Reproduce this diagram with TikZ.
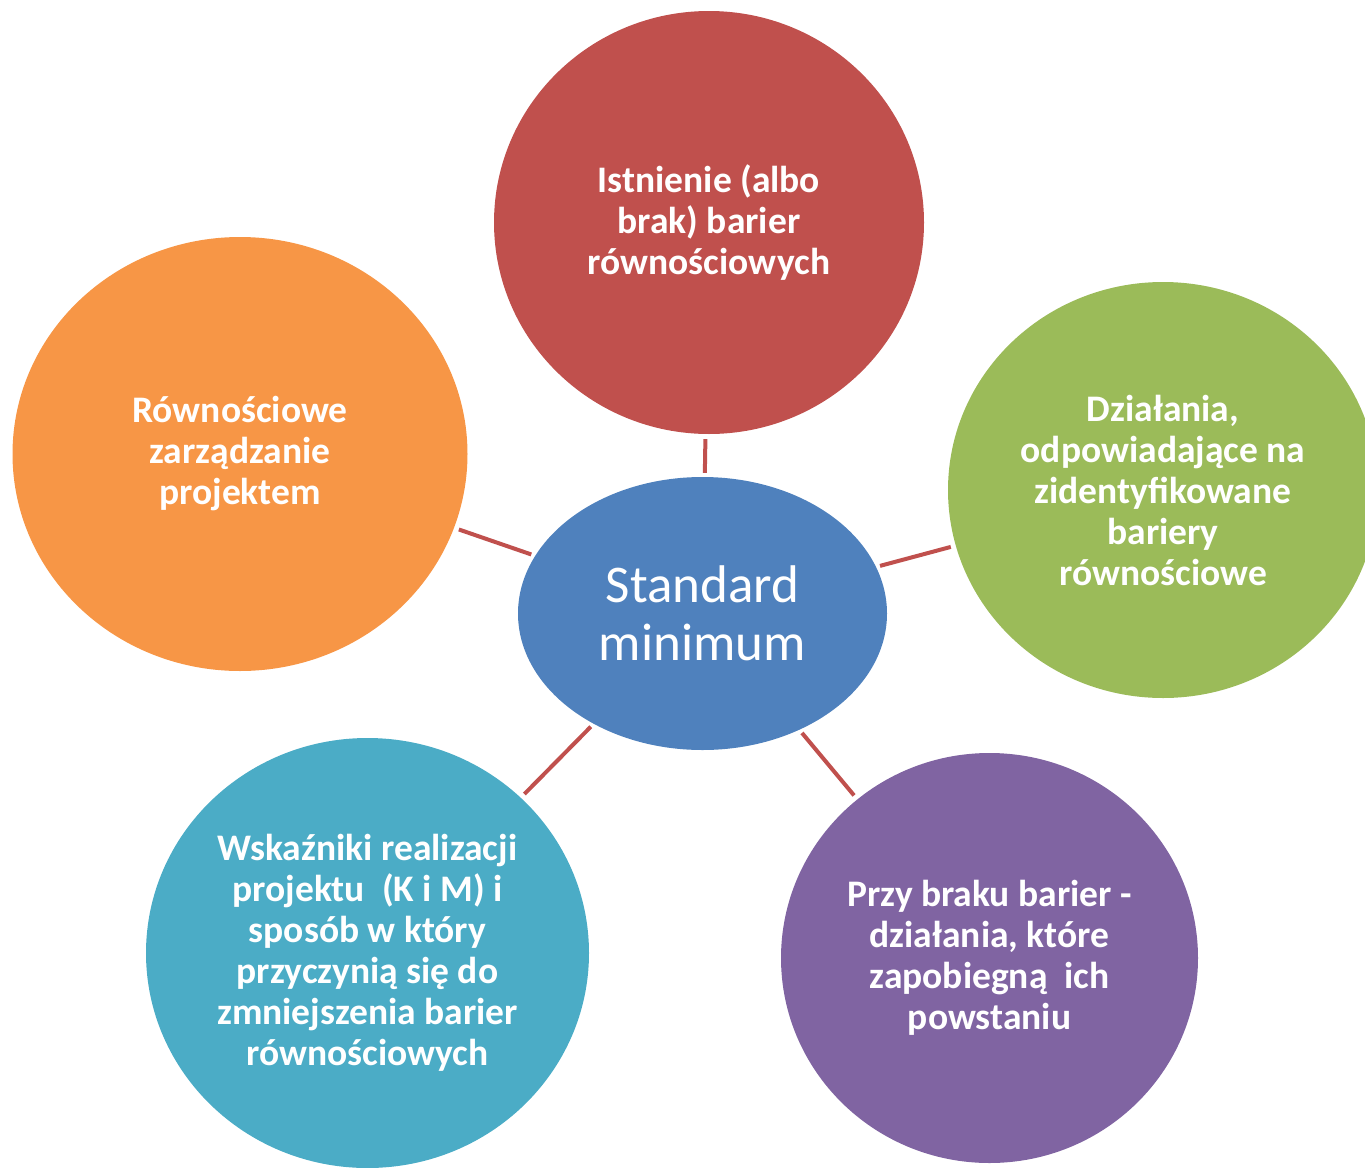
\documentclass[tikz,border=0pt]{standalone}
\usepackage{fontspec}
\setmainfont{Carlito}
\usetikzlibrary{shapes.geometric}
\definecolor{cblue}{HTML}{4F81BD}
\definecolor{cred}{HTML}{C0504D}
\definecolor{cgreen}{HTML}{9BBB59}
\definecolor{cpurple}{HTML}{8064A2}
\definecolor{cteal}{HTML}{4BACC6}
\definecolor{corange}{HTML}{F79646}
\tikzset{
  sat/.style={ellipse, inner sep=0pt, text=white, align=center,
    font=\fontsize{37.5}{41}\selectfont\bfseries},
  hub/.style={ellipse, inner sep=0pt, text=white, align=center, fill=cblue,
    minimum width=369pt, minimum height=273pt,
    font=\fontsize{53}{58}\selectfont},
  conn/.style={draw=cred, line width=4pt, shorten >=5pt, shorten <=4pt}
}
\begin{document}
\begin{tikzpicture}[x=1pt,y=-1pt]
\useasboundingbox (0,0) rectangle (1365,1167);
\clip (0,0) rectangle (1365,1167);
\node[sat, fill=cred, minimum width=430pt, minimum height=423pt] (top) at (709,222.5)
  {Istnienie (albo\\brak) barier\\równościowych};
\node[sat, fill=corange, minimum width=455pt, minimum height=434pt] (left) at (240,454)
  {Równościowe\\zarządzanie\\projektem};
\node[sat, fill=cgreen, minimum width=430pt, minimum height=416pt] (right) at (1163,490)
  {Działania,\\odpowiadające na\\zidentyfikowane\\bariery\\równościowe};
\node[sat, fill=cteal, minimum width=443pt, minimum height=430pt] (bl) at (367.5,953)
  {Wskaźniki realizacji\\projektu~ (K i M) i\\sposób w który\\przyczynią się do\\zmniejszenia barier\\równościowych};
\node[sat, fill=cpurple, minimum width=417pt, minimum height=410pt] (br) at (989.5,958)
  {Przy braku barier -\\działania, które\\zapobiegną~ ich\\powstaniu};
\node[hub] (c) at (702.5,613.5) {Standard\\minimum};
\draw[conn] (c) -- (top);
\draw[conn] (c) -- (left);
\draw[conn] (c) -- (right);
\draw[conn] (c) -- (bl);
\draw[conn] (c) -- (br);
\end{tikzpicture}
\end{document}
